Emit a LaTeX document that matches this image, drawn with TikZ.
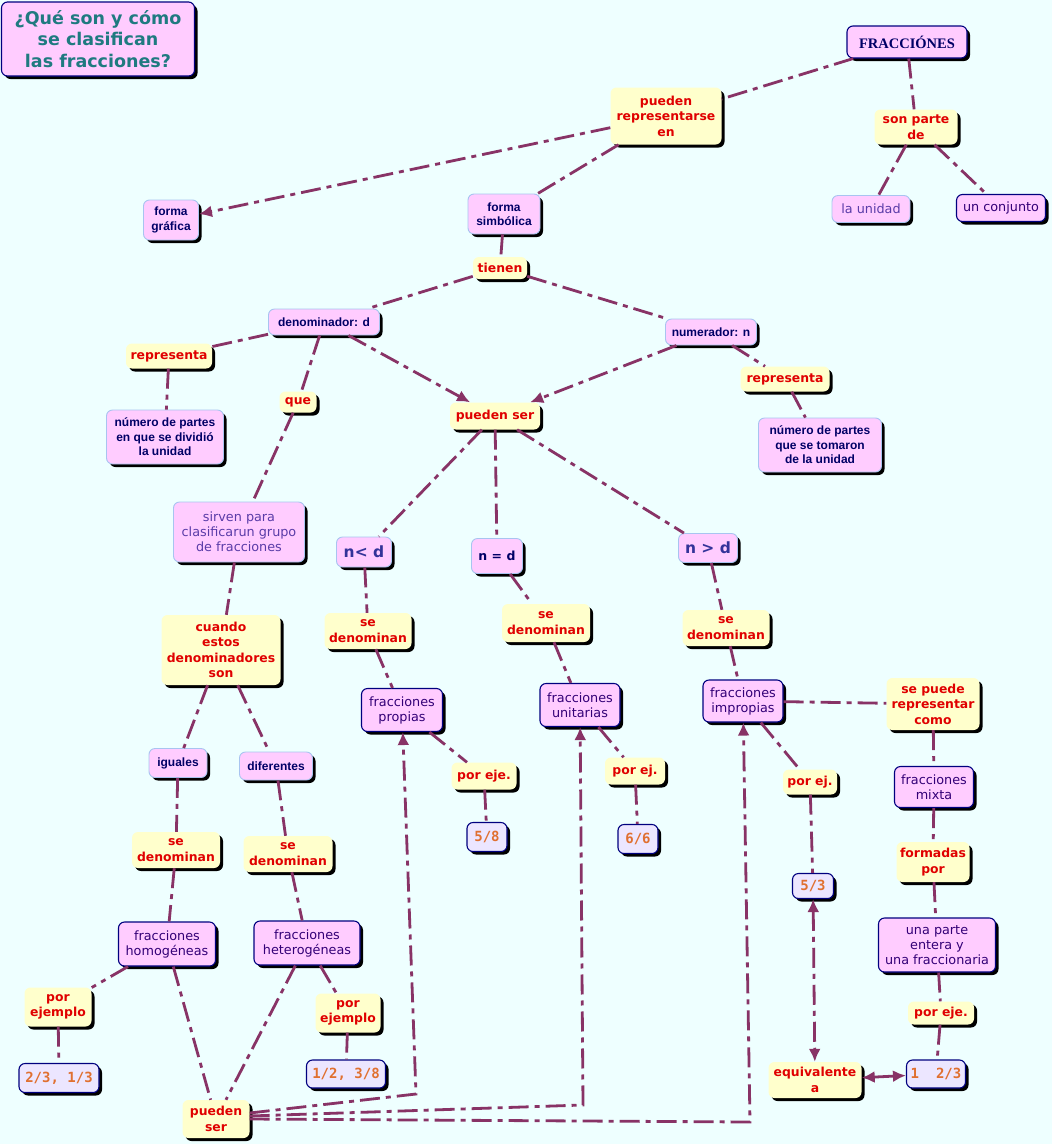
\documentclass[tikz,border=0pt]{standalone}
\usepackage{fontspec}
\setmainfont{DejaVu Sans}
\newfontfamily\arialfont{Liberation Sans}
\newfontfamily\numfont{DejaVu Sans Mono}
\newfontfamily\fancyfont{Liberation Serif}
\usetikzlibrary{arrows.meta,shadows}
\definecolor{mapbg}{HTML}{EEFFFF}
\definecolor{conceptfill}{HTML}{FFCCFF}
\definecolor{linkfill}{HTML}{FFFFCC}
\definecolor{examplefill}{HTML}{ECE6FF}
\definecolor{borderlight}{HTML}{A8C4F0}
\definecolor{borderdark}{HTML}{00007F}
\definecolor{linkred}{HTML}{E00000}
\definecolor{conceptnavy}{HTML}{000066}
\definecolor{conceptpurple}{HTML}{330077}
\definecolor{softpurple}{HTML}{5A3CA8}
\definecolor{relcolor}{HTML}{333399}
\definecolor{exorange}{HTML}{E07030}
\definecolor{titleteal}{HTML}{1F7A80}
\definecolor{conncolor}{HTML}{883366}
\tikzset{
  sz/.style 2 args={minimum width=#1pt, minimum height=#2pt},
  boxbase/.style={rounded corners=6pt, align=center, inner sep=2pt,
                  drop shadow={shadow xshift=3pt, shadow yshift=-3pt, fill=black, opacity=1}},
  boldc/.style={boxbase, draw=borderlight, line width=0.9pt, fill=conceptfill, text=conceptnavy,
                font=\arialfont\bfseries\fontsize{12}{14.5}\selectfont},
  bigc/.style={boldc, text=relcolor, font=\bfseries\fontsize{15.5}{17}\selectfont},
  darkplain/.style={boxbase, draw=borderdark, line width=1.1pt, fill=conceptfill, text=conceptpurple,
                    font=\fontsize{12.8}{15}\selectfont},
  lightplain/.style={darkplain, draw=borderlight, line width=0.9pt, text=softpurple},
  link/.style={boxbase, fill=linkfill, text=linkred, font=\bfseries\fontsize{12.4}{15.5}\selectfont},
  example/.style={boxbase, draw=borderdark, line width=1.1pt, fill=examplefill, text=exorange,
                  font=\numfont\bfseries\fontsize{14}{15}\selectfont},
  conn/.style={draw=conncolor, line width=2.8pt, dash pattern=on 20pt off 6pt on 5pt off 6pt},
  arrowconn/.style={conn, -{Latex[length=13pt,width=12pt]}},
  dblconn/.style={conn, {Latex[length=13pt,width=12pt]}-{Latex[length=13pt,width=12pt]}},
}
\begin{document}
\begin{tikzpicture}[x=1pt,y=-1pt]
  \fill[mapbg] (0,0) rectangle (1052,1144);
  \useasboundingbox (0,0) rectangle (1052,1144);

  % top of the map
  \node[darkplain, sz={193}{74}, text=titleteal, font=\bfseries\fontsize{17.5}{21.5}\selectfont] (title) at (98,39) {¿Qué son y cómo\\se clasifican\\las fracciones?};
  \node[darkplain, sz={120}{32}, text=conceptnavy, font=\fancyfont\bfseries\fontsize{14.5}{16}\selectfont] (frac) at (907,42) {FRACCIÓNES};
  \node[link, sz={83}{35}] (sonparte) at (916,127) {son parte\\de};
  \node[lightplain, sz={78}{27}] (unidad) at (871,209) {la unidad};
  \node[darkplain, sz={89}{27}] (conjunto) at (1001,208) {un conjunto};
  \node[link, sz={111}{57}] (represent) at (666,116) {pueden\\representarse\\en};
  \node[boldc, sz={55}{40}] (grafica) at (171,220) {forma\\gráfica};
  \node[boldc, sz={72}{40}] (simbolica) at (504,214) {forma\\simbólica};
  \node[link, sz={54}{22}] (tienen) at (500,268) {tienen};
  \node[boldc, sz={111}{26}] (denom) at (324,322) {denominador: d};
  \node[boldc, sz={91}{26}] (numer) at (711,332) {numerador: n};
  \node[link, sz={86}{25}] (repizq) at (169,356) {representa};
  \node[link, sz={89}{25}] (repder) at (785,379) {representa};
  \node[boldc, sz={117}{54}] (partesdiv) at (165,437) {número de partes\\en que se dividió\\la unidad};
  \node[boldc, sz={123}{54}] (partestom) at (820,445) {número de partes\\que se tomaron\\de la unidad};
  \node[link, sz={37}{21}] (que) at (298,402) {que};
  \node[link, sz={90}{27}] (pueden) at (495,416) {pueden ser};
  \node[lightplain, sz={131}{60}] (sirven) at (239,532) {sirven para\\clasificarun grupo\\de fracciones};

  % n y d
  \node[bigc, sz={55}{30}] (menor) at (364,552) {n< d};
  \node[boldc, sz={51}{35}, font=\bfseries\fontsize{12.5}{14}\selectfont] (igual) at (497,556) {n = d};
  \node[bigc, sz={59}{29}] (mayor) at (708,548) {n > d};
  \node[link, sz={119}{70}] (cuando) at (221,650) {cuando\\estos\\denominadores\\son};
  \node[link, sz={87}{36}] (sedenA) at (368,631) {se\\denominan};
  \node[link, sz={88}{38}] (sedenB) at (546,623) {se\\denominan};
  \node[link, sz={87}{36}] (sedenC) at (726,628) {se\\denominan};
  \node[darkplain, sz={81}{43}] (propias) at (402,710) {fracciones\\propias};
  \node[darkplain, sz={80}{43}] (unitarias) at (580,705) {fracciones\\unitarias};
  \node[darkplain, sz={80}{42}] (impropias) at (743,701) {fracciones\\impropias};
  \node[link, sz={93}{52}] (sepuede) at (933,704) {se puede\\representar\\como};
  \node[boldc, sz={58}{29}] (iguales) at (178,763) {iguales};
  \node[boldc, sz={73}{28}] (diferentes) at (276,766) {diferentes};
  \node[link, sz={65}{27}] (ejeA) at (484,776) {por eje.};
  \node[link, sz={60}{27}] (ejB) at (635,771) {por ej.};
  \node[link, sz={54}{25}] (ejC) at (810,782) {por ej.};
  \node[darkplain, sz={79}{41}] (mixta) at (934,787) {fracciones\\mixta};
  \node[example, sz={40}{29}] (cincoocho) at (487,837) {5/8};
  \node[example, sz={40}{29}] (seisseis) at (638,839) {6/6};

  % bottom of the map
  \node[link, sz={88}{36}] (sedenD) at (176,850) {se\\denominan};
  \node[link, sz={89}{36}] (sedenE) at (288,854) {se\\denominan};
  \node[link, sz={73}{40}] (formadas) at (933,862) {formadas\\por};
  \node[example, sz={41}{25}] (cincotres) at (813,886) {5/3};
  \node[darkplain, sz={97}{44}] (homog) at (167,944) {fracciones\\homogéneas};
  \node[darkplain, sz={106}{44}] (heterog) at (307,943) {fracciones\\heterogéneas};
  \node[darkplain, sz={117}{54}] (entera) at (937,945) {una parte\\entera y\\una fraccionaria};
  \node[link, sz={67}{39}] (ejemploA) at (58,1007) {por\\ejemplo};
  \node[link, sz={65}{39}] (ejemploB) at (348,1013) {por\\ejemplo};
  \node[link, sz={66}{23}] (ejeD) at (941,1013) {por eje.};
  \node[example, sz={80}{29}] (dostercios) at (59,1078) {2/3,~1/3};
  \node[example, sz={79}{28}] (unmedio) at (346,1074) {1/2,~3/8};
  \node[link, sz={93}{36}] (equiv) at (815,1080) {equivalente\\a};
  \node[example, sz={59}{28}] (mixtoej) at (936,1074) {1~~2/3};
  \node[link, sz={67}{38}] (puedenB) at (216,1119) {pueden\\ser};

  \coordinate (toprop) at (416,1094);
  \coordinate (tounit) at (583,1105);
  \coordinate (toimp) at (750,1122);

  \draw[conn] (frac) -- (represent);
  \draw[conn] (frac) -- (sonparte);
  \draw[conn] (sonparte) -- (unidad);
  \draw[conn] (sonparte) -- (conjunto);
  \draw[arrowconn] (represent) -- (grafica);
  \draw[conn] (represent) -- (simbolica);
  \draw[conn] (simbolica) -- (tienen);
  \draw[conn] (tienen) -- (denom);
  \draw[conn] (tienen) -- (numer);
  \draw[conn] (denom) -- (repizq);
  \draw[conn] (repizq) -- (partesdiv);
  \draw[conn] (numer) -- (repder);
  \draw[conn] (repder) -- (partestom);
  \draw[arrowconn] (denom) -- (pueden);
  \draw[arrowconn] (numer) -- (pueden);
  \draw[conn] (denom) -- (que);
  \draw[conn] (que) -- (sirven);
  \draw[conn] (sirven) -- (cuando);
  \draw[conn] (cuando) -- (iguales);
  \draw[conn] (cuando) -- (diferentes);
  \draw[conn] (pueden) -- (menor);
  \draw[conn] (pueden) -- (igual);
  \draw[conn] (pueden) -- (mayor);
  \draw[conn] (menor) -- (sedenA);
  \draw[conn] (sedenA) -- (propias);
  \draw[conn] (propias) -- (ejeA);
  \draw[conn] (ejeA) -- (cincoocho);
  \draw[conn] (igual) -- (sedenB);
  \draw[conn] (sedenB) -- (unitarias);
  \draw[conn] (unitarias) -- (ejB);
  \draw[conn] (ejB) -- (seisseis);
  \draw[conn] (mayor) -- (sedenC);
  \draw[conn] (sedenC) -- (impropias);
  \draw[conn] (impropias) -- (ejC);
  \draw[conn] (ejC) -- (cincotres);
  \draw[conn] (impropias) -- (sepuede);
  \draw[conn] (sepuede) -- (mixta);
  \draw[conn] (mixta) -- (formadas);
  \draw[conn] (formadas) -- (entera);
  \draw[conn] (entera) -- (ejeD);
  \draw[conn] (ejeD) -- (mixtoej);
  \draw[dblconn] (cincotres) -- (equiv);
  \draw[dblconn] (equiv) -- (mixtoej);
  \draw[conn] (iguales) -- (sedenD);
  \draw[conn] (sedenD) -- (homog);
  \draw[conn] (homog) -- (ejemploA);
  \draw[conn] (ejemploA) -- (dostercios);
  \draw[conn] (diferentes) -- (sedenE);
  \draw[conn] (sedenE) -- (heterog);
  \draw[conn] (heterog) -- (ejemploB);
  \draw[conn] (ejemploB) -- (unmedio);
  \draw[conn] (homog) -- (puedenB);
  \draw[conn] (heterog) -- (puedenB);
  \draw[arrowconn] ([yshift=6pt]puedenB.east) -- (toprop) -- (propias);
  \draw[arrowconn] ([yshift=3pt]puedenB.east) -- (tounit) -- (unitarias);
  \draw[arrowconn] (puedenB.east) -- (toimp) -- (impropias);
\end{tikzpicture}
\end{document}
